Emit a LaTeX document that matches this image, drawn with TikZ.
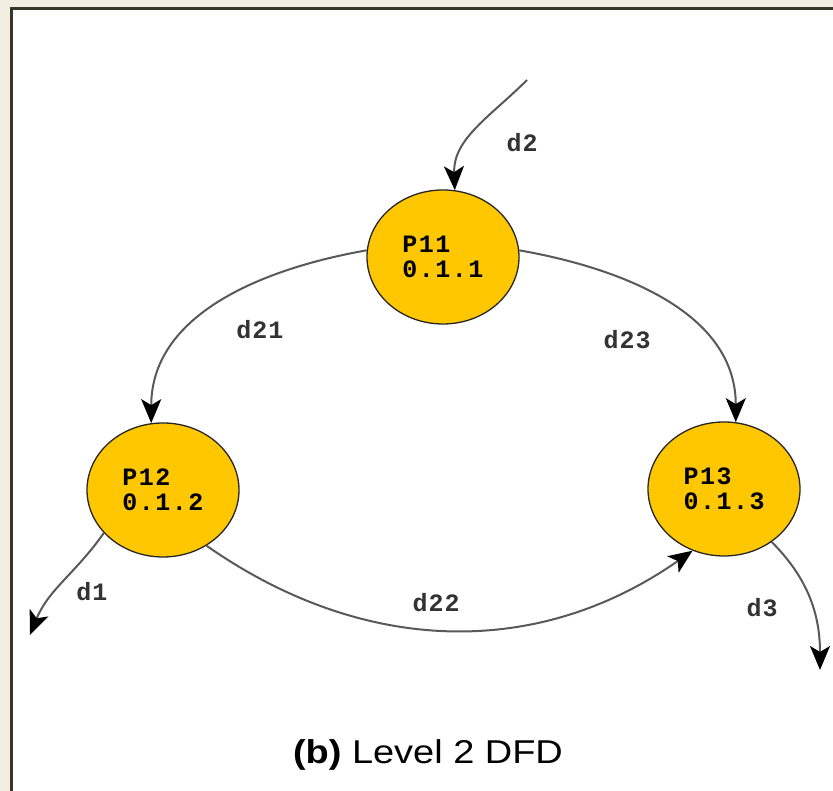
\documentclass[tikz,border=0pt]{standalone}
\usepackage{fontspec}
\setmainfont{Liberation Sans}
\newfontfamily\monob[LetterSpace=6]{Liberation Mono}
\newfontfamily\monol[LetterSpace=4]{Liberation Mono}
\usetikzlibrary{shapes.geometric,arrows.meta}
\definecolor{procfill}{HTML}{FFC700}
\definecolor{pagebg}{HTML}{F2EFE1}
\definecolor{framecol}{HTML}{383626}
\begin{document}
\begin{tikzpicture}[x=1pt,y=1pt,
  proc/.style={ellipse, draw=black!85, line width=1.3pt, fill=procfill,
    minimum width=152pt, minimum height=134pt, inner sep=0pt,
    font=\monob\bfseries\fontsize{25}{25}\selectfont, align=left},
  flow/.style={draw=black!65, line width=2pt,
    -{Stealth[length=24pt,width=20pt,inset=6pt,color=black]}},
  lbl/.style={font=\monol\bfseries\fontsize{25}{26}\selectfont, text=black!80}]
\useasboundingbox (0,0) rectangle (833,791);
% page background and frame
\fill[pagebg] (0,0) rectangle (833,791);
\fill[white] (11,0) rectangle (833,782);
\draw[framecol, line width=3pt] (11,0) -- (11,782) -- (833,782);

% processes
\node[proc] (P11) at (443,534) {P11\\0.1.1};
\node[proc] (P12) at (163,301) {P12\\0.1.2};
\node[proc] (P13) at (724,302) {P13\\0.1.3};

% free ends
\coordinate (s2) at (527,711);
\coordinate (e1) at (30,156);
\coordinate (e3) at (820,121);

% flows
\draw[flow] (s2) to[out=225,in=92] (P11.80);
\draw[flow] (P11.175) to[out=190,in=90] (P12.100);
\draw[flow] (P11.5) to[out=-10,in=90] (P13.80);
\draw[flow] (P12.-52) to[out=-35,in=215] (P13.243);
\draw[flow] (P12.216) to[out=235,in=68] (e1);
\draw[flow] (P13.-48) to[out=-45,in=90] (e3);

% labels
\node[lbl] (l2) at (522,648) {d2};
\node[lbl] (l21) at (260,461) {d21};
\node[lbl] (l23) at (627,451) {d23};
\node[lbl] (l22) at (436,188) {d22};
\node[lbl] (l1) at (92,199) {d1};
\node[lbl] (l3) at (762,183) {d3};

% caption
\node (cap) at (428,36) {\scalebox{1.15}[1]{\fontsize{33}{36}\selectfont\textbf{(b)} Level 2 DFD}};
\end{tikzpicture}
\end{document}
